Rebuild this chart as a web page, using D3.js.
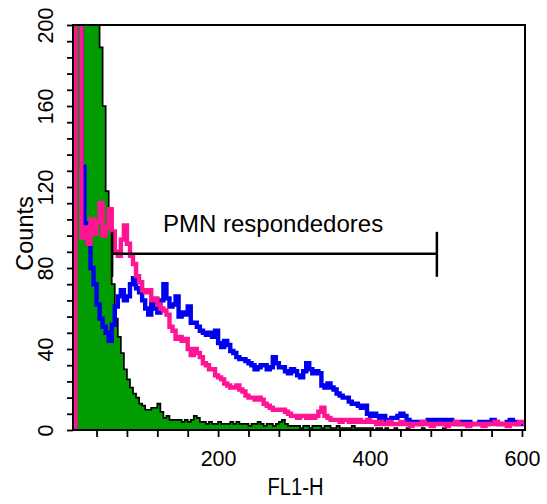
<!DOCTYPE html>
<html>
<head>
<meta charset="utf-8">
<script src="https://cdn.jsdelivr.net/npm/d3@7"></script>
<style>
  body { margin: 0; background: #fff; }
  svg { display: block; font-family: "Liberation Sans", Arial, sans-serif; }
</style>
</head>
<body>
<svg id="chart" width="547" height="504"></svg>
<script>
"use strict";

// Histogram channels: 4 units wide, first channel starts at 8
const binStart = 8;
const binWidth = 4;

// Counts per channel (values above 200 are off scale)
const greenCounts = [
	230, 230, 230, 230, 230, 230, 230, 230, 230,
	189, 160, 118, 100,
	72, 55, 46, 38, 30, 25, 21, 18, 16,
	13, 12, 10, 10, 11, 11, 13, 9, 6, 7,
	5, 5, 5, 5, 4, 5, 4, 5, 7, 6,
	4, 4, 3, 4, 3, 3, 4, 3, 3, 3,
	4, 3, 4, 3, 3, 3, 2, 3, 3, 4,
	3, 2, 3, 3, 2, 3, 4, 5, 3, 2, 2,
	2, 2, 1, 2, 2, 1, 2, 2, 2, 1, 2, 2,
	1, 1, 2, 1, 1, 1, 1, 2, 1, 1, 1, 1, 1, 1, 0, 1,
	1, 0, 1, 0, 0, 1, 0, 0, 0, 1, 0, 0, 0, 0, 1, 0, 0, 0, 0, 0,
	0, 1, 0, 0, 0, 0, 0, 0, 0, 0, 0, 0, 0, 0, 0, 0, 0, 0, 0, 0,
	0, 0, 0, 0, 0, 0, 0, 0, 0
];

const blueCounts = [
	230, 230, 230, 130, 102, 92, 80, 72, 62, 55, 51, 48, 44,
	52, 61, 66, 69, 64, 66, 72, 75, 70, 68, 64, 60, 57,
	63, 60, 58, 64, 72, 65, 61, 62, 66, 56, 58, 57, 61,
	53, 53, 51, 49, 48, 47, 48, 46, 49, 43, 41, 44, 42,
	39, 38, 36, 35, 35, 34, 33, 32, 30, 31, 32, 32, 30,
	31, 36, 33, 31, 31, 29, 28, 30, 29, 27, 26, 29, 33,
	30, 28, 29, 28, 22, 21, 23, 21, 20, 18, 17, 16, 16,
	14, 13, 13, 12, 11, 12, 8, 7, 8, 7, 6, 7, 5,
	5, 6, 6, 7, 8, 7, 5, 4,
	4, 4, 3, 4, 4, 5, 4, 5, 5, 5, 5, 4, 5, 4, 3, 3, 4, 3, 4, 3,
	3, 3, 4, 4, 3, 4, 5, 4, 3, 3, 3, 4, 5, 4, 3, 3, 3, 3
];

const pinkCounts = [
	0, 230, 230, 95, 100, 92, 104, 97, 103, 112, 96, 100, 109,
	98, 88, 86, 94, 101, 92, 86, 82, 76, 73, 69, 68, 69,
	64, 65, 62, 60, 59, 57, 51, 49, 45, 46, 44, 45, 40,
	37, 40, 38, 36, 33, 32, 30, 30, 27, 26, 25, 23, 22,
	21, 21, 22, 20, 19, 17, 16, 16, 15, 16, 15, 13, 12,
	11, 10, 10, 10, 10, 9, 8, 7, 7, 6, 7, 7, 6,
	7, 6, 7, 9, 11, 7, 6, 5, 5, 5, 4, 5, 5,
	4, 5, 4, 5, 4, 4, 5, 4, 4, 3,
	4, 3, 3, 4, 3, 3, 3, 4, 3, 3, 2, 3, 3, 3, 4, 3, 3, 2, 3, 3,
	3, 3, 2, 3, 3, 4, 3, 3, 3, 2, 3, 3, 3, 3, 2, 3, 3, 3, 4, 3,
	3, 3, 2, 3, 3, 3, 4, 4, 3
];

// Marker (gate) "PMN respondedores"
const gateLabel = "PMN respondedores";
const gateRange = [60.5, 488];
const gateLevel = 87;

// Axes
const xDomain = [9, 604];
const yDomain = [0, 200];
const xTicks = d3.range(40, 601, 40);
const xLabelTicks = [200, 400, 600];
const yTicks = d3.range(0, 201, 8);
const yLabelTicks = [0, 40, 80, 120, 160, 200];
const xTitle = "FL1-H";
const yTitle = "Counts";


const plotLeft = 73, plotRight = 525, plotTop = 25, plotBottom = 430;

const svg = d3.select("#chart");

const x = d3.scaleLinear().domain(xDomain).range([plotLeft, plotRight]);
const y = d3.scaleLinear().domain(yDomain).range([plotBottom, plotTop]);

svg.append("defs")
	.append("clipPath")
	.attr("id", "plot-clip")
	.append("rect")
	.attr("x", plotLeft)
	.attr("y", plotTop)
	.attr("width", plotRight - plotLeft)
	.attr("height", plotBottom - plotTop);

// turn a counts array into step points
function toPoints(counts) {
	const pts = counts.map((c, i) => [binStart + i * binWidth, c]);
	pts.unshift([binStart, 0]);
	pts.push([binStart + counts.length * binWidth, counts[counts.length - 1]]);
	return pts;
}

const stepLine = d3.line()
	.x(d => x(d[0]))
	.y(d => y(d[1]))
	.curve(d3.curveStepAfter);

const stepArea = d3.area()
	.x(d => x(d[0]))
	.y0(y(0))
	.y1(d => y(d[1]))
	.curve(d3.curveStepAfter);

const plot = svg.append("g").attr("clip-path", "url(#plot-clip)");

// green filled histogram with black outline
const greenPts = toPoints(greenCounts);
plot.append("path")
	.attr("d", stepArea(greenPts))
	.attr("fill", "#009c00");
plot.append("path")
	.attr("d", stepLine(greenPts))
	.attr("fill", "none")
	.attr("stroke", "#000")
	.attr("stroke-width", 1.7);

plot.append("path")
	.attr("d", stepLine(toPoints(blueCounts)))
	.attr("fill", "none")
	.attr("stroke", "#0000f0")
	.attr("stroke-width", 4.4);

plot.append("path")
	.attr("d", stepLine(toPoints(pinkCounts)))
	.attr("fill", "none")
	.attr("stroke", "#ff1493")
	.attr("stroke-width", 4.4);

// gate marker
const gate = svg.append("g")
	.attr("stroke", "#000")
	.attr("stroke-width", 2.5);
gate.append("line")
	.attr("x1", x(gateRange[0])).attr("x2", x(gateRange[1]))
	.attr("y1", y(gateLevel)).attr("y2", y(gateLevel));
gateRange.forEach(v => {
	gate.append("line")
		.attr("x1", x(v)).attr("x2", x(v))
		.attr("y1", y(gateLevel) - 22).attr("y2", y(gateLevel) + 23);
});
svg.append("text")
	.attr("x", x(127.5))
	.attr("y", y(gateLevel) - 22)
	.attr("font-size", 24)
	.attr("fill", "#000")
	.text(gateLabel);

// frame
svg.append("rect")
	.attr("x", plotLeft)
	.attr("y", plotTop)
	.attr("width", plotRight - plotLeft)
	.attr("height", plotBottom - plotTop)
	.attr("fill", "none")
	.attr("stroke", "#000")
	.attr("stroke-width", 2);

// x axis
const xAxis = svg.append("g")
	.attr("transform", `translate(0,${plotBottom})`)
	.call(d3.axisBottom(x)
		.tickValues(xTicks)
		.tickSize(7)
		.tickFormat(d => xLabelTicks.includes(d) ? d : ""));
xAxis.select(".domain").remove();
xAxis.selectAll(".tick line").attr("stroke-width", 1.8);
xAxis.selectAll(".tick text")
	.attr("y", 36)
	.attr("dy", 0)
	.attr("font-size", 21.5);
xAxis.attr("font-family", null).attr("font-size", null);

// y axis
const yAxis = svg.append("g")
	.attr("transform", `translate(${plotLeft},0)`)
	.call(d3.axisLeft(y)
		.tickValues(yTicks)
		.tickSize(6)
		.tickFormat(d => yLabelTicks.includes(d) ? d : ""));
yAxis.select(".domain").remove();
yAxis.selectAll(".tick line").attr("stroke-width", 1.8);
yAxis.selectAll(".tick text")
	.attr("transform", "rotate(-90)")
	.attr("x", 0)
	.attr("y", -20)
	.attr("dy", 0)
	.attr("text-anchor", "middle")
	.attr("font-size", 21.5);
yAxis.attr("font-family", null).attr("font-size", null);

// axis titles
svg.append("text")
	.attr("x", 295.5)
	.attr("y", 495)
	.attr("text-anchor", "middle")
	.attr("font-size", 23)
	.attr("textLength", 56)
	.attr("lengthAdjust", "spacingAndGlyphs")
	.text(xTitle);

svg.append("text")
	.attr("transform", "translate(33,233.5) rotate(-90)")
	.attr("text-anchor", "middle")
	.attr("font-size", 23.5)
	.text(yTitle);
</script>
</body>
</html>
